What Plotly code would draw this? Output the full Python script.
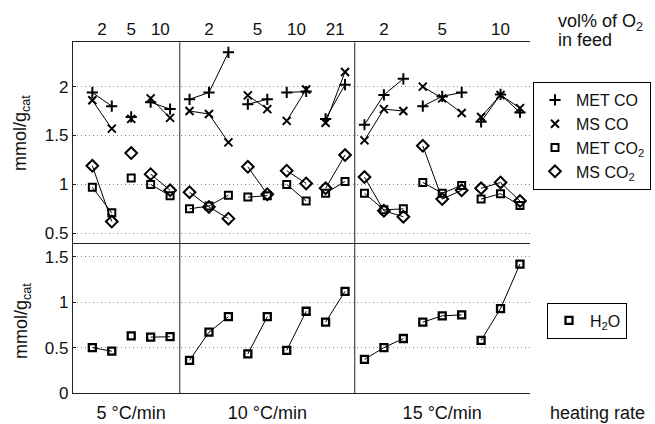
import plotly.graph_objects as go

# Experimental design: heating rates, O2 levels within each rate, runs per level
heating_rates = ["5 °C/min", "10 °C/min", "15 °C/min"]
o2_levels = [[2, 5, 10], [2, 5, 10, 21], [2, 5, 10]]
runs_per_level = [[2, 1, 2], [3, 2, 2, 2], [3, 3, 3]]

# Measured amounts (mmol/g_cat), one inner list per (heating rate, O2 level) block
met_co = [[1.94, 1.80], [1.69], [1.84, 1.77],
          [1.87, 1.94, 2.35], [1.82, 1.87], [1.94, 1.95], [1.67, 2.02],
          [1.61, 1.915, 2.08], [1.80, 1.90, 1.94], [1.64, 1.92, 1.735]]
ms_co = [[1.86, 1.57], [1.67], [1.88, 1.68],
         [1.75, 1.72, 1.43], [1.91, 1.77], [1.65, 1.97], [1.63, 2.15],
         [1.45, 1.77, 1.75], [2.00, 1.88, 1.73], [1.69, 1.915, 1.78]]
met_co2 = [[0.97, 0.71], [1.065], [1.00, 0.885],
           [0.75, 0.78, 0.89], [0.87, 0.885], [1.00, 0.83], [0.91, 1.03],
           [0.91, 0.74, 0.75], [1.02, 0.91, 0.99], [0.85, 0.905, 0.785]]
ms_co2 = [[1.19, 0.62], [1.32], [1.105, 0.94],
          [0.92, 0.77, 0.65], [1.18, 0.90], [1.14, 1.01], [0.96, 1.30],
          [1.075, 0.73, 0.67], [1.395, 0.85, 0.94], [0.96, 1.02, 0.83]]
h2o = [[0.50, 0.46], [0.63], [0.615, 0.62],
       [0.36, 0.67, 0.84], [0.43, 0.84], [0.47, 0.90], [0.78, 1.12],
       [0.37, 0.50, 0.60], [0.78, 0.85, 0.86], [0.58, 0.93, 1.42]]

# ---- build run positions along the category axis ----
block_x = []          # x positions for each block
o2_tick_x, o2_tick_text = [], []
group_center, group_edges = [], []
pos = 1
for levels, runs in zip(o2_levels, runs_per_level):
    first = pos
    for lvl, n in zip(levels, runs):
        xs = list(range(pos, pos + n))
        block_x.append(xs)
        o2_tick_x.append(sum(xs) / n)
        o2_tick_text.append(str(lvl))
        pos += n
    group_center.append((first + pos - 1) / 2)
    group_edges.append(pos - 0.5)
x_max = pos - 0.5


def flatten(blocks):
    xs, ys = [], []
    for bx, by in zip(block_x, blocks):
        xs += bx + [None]
        ys += by + [None]
    return xs, ys


BLACK = "#000"
series = [
    ("MET CO", met_co, dict(symbol="cross-thin", size=8, line=dict(width=2, color=BLACK))),
    ("MS CO", ms_co, dict(symbol="x-thin", size=8, line=dict(width=2, color=BLACK))),
    ("MET CO<sub>2</sub>", met_co2, dict(symbol="square-open", size=7, color=BLACK, line=dict(width=2, color=BLACK))),
    ("MS CO<sub>2</sub>", ms_co2, dict(symbol="diamond-open", size=9, color=BLACK, line=dict(width=2, color=BLACK))),
]

fig = go.Figure()
for name, blocks, mk in series:
    xs, ys = flatten(blocks)
    fig.add_trace(go.Scatter(x=xs, y=ys, mode="lines", line=dict(color=BLACK, width=1),
                             xaxis="x2", yaxis="y2", showlegend=False, hoverinfo="skip"))
    fig.add_trace(go.Scatter(x=xs, y=ys, mode="markers", marker=mk, name=name,
                             xaxis="x2", yaxis="y2", legend="legend"))

xs, ys = flatten(h2o)
fig.add_trace(go.Scatter(x=xs, y=ys, mode="lines", line=dict(color=BLACK, width=1),
                         xaxis="x", yaxis="y", showlegend=False, hoverinfo="skip"))
fig.add_trace(go.Scatter(x=xs, y=ys, mode="markers", name="H<sub>2</sub>O",
                         marker=dict(symbol="square-open", size=7, color=BLACK,
                                     line=dict(width=2.3, color=BLACK)),
                         xaxis="x", yaxis="y", legend="legend2"))

W, H = 655, 424
x_dom = [72.9 / W, 529.7 / W]
top_dom = [(H - 242.7) / H, (H - 42.3) / H]
bot_dom = [(H - 393) / H, (H - 242.7) / H]

AXC = "#222"
FONT = "Liberation Sans, Arial, sans-serif"
grid = dict(showgrid=True, gridcolor="#888", griddash="1px,3px", gridwidth=1)

# separators between heating-rate groups
for xe in group_edges[:-1]:
    fig.add_shape(type="line", xref="x", yref="paper", x0=xe, x1=xe,
                  y0=bot_dom[0], y1=top_dom[1], line=dict(color=AXC, width=1))

fig.update_layout(
    width=W, height=H, margin=dict(l=0, r=0, t=0, b=0, autoexpand=False),
    paper_bgcolor="white", plot_bgcolor="white",
    font=dict(family=FONT, size=16, color="#111"),
    xaxis=dict(domain=x_dom, anchor="y", range=[0, x_max], showline=True, linecolor=AXC,
               tickvals=group_center, ticktext=heating_rates, ticks="", ticklabelstandoff=3,
               tickfont=dict(size=18), showgrid=False, zeroline=False, automargin=False),
    xaxis2=dict(domain=x_dom, anchor="y2", side="top", range=[0, x_max], showline=True,
                mirror=True, linecolor=AXC, tickvals=o2_tick_x, ticktext=o2_tick_text,
                ticks="", ticklabelstandoff=0, tickfont=dict(size=17),
                showgrid=False, zeroline=False, automargin=False),
    yaxis=dict(domain=bot_dom, anchor="x", range=[0, 1.655], showline=True, linecolor=AXC,
               tickvals=[0, 0.5, 1, 1.5], ticktext=["0", "0.5", "1", "1.5"],
               tickfont=dict(size=17), ticks="inside", ticklen=3, tickcolor=AXC,
               zeroline=False, automargin=False, **grid),
    yaxis2=dict(domain=top_dom, anchor="x2", range=[0.404, 2.453], showline=True, linecolor=AXC,
                tickvals=[0.5, 1, 1.5, 2], ticktext=["0.5", "1", "1.5", "2"],
                tickfont=dict(size=17), ticks="inside", ticklen=3, tickcolor=AXC,
                zeroline=False, automargin=False, **grid),
    legend=dict(x=533 / W, y=(H - 136) / H, xanchor="left", yanchor="middle",
                bordercolor=BLACK, borderwidth=1, bgcolor="white",
                font=dict(size=16), tracegroupgap=0, itemwidth=32),
    legend2=dict(x=547 / W, y=(H - 320.5) / H, xanchor="left", yanchor="middle",
                 bordercolor=BLACK, borderwidth=1, bgcolor="white",
                 font=dict(size=16), itemwidth=32),
    annotations=[
        dict(text="mmol/g<sub>cat</sub>", textangle=-90, xref="paper", yref="paper",
             x=22 / W, y=(H - 133) / H, showarrow=False, xanchor="center", yanchor="middle",
             font=dict(size=18)),
        dict(text="mmol/g<sub>cat</sub>", textangle=-90, xref="paper", yref="paper",
             x=22 / W, y=(H - 321) / H, showarrow=False, xanchor="center", yanchor="middle",
             font=dict(size=18)),
        dict(text="vol% of O<sub>2</sub>", xref="paper", yref="paper", x=556 / W,
             y=(H - 22) / H, showarrow=False, xanchor="left", yanchor="middle",
             font=dict(size=18)),
        dict(text="in feed", xref="paper", yref="paper", x=556 / W,
             y=(H - 40) / H, showarrow=False, xanchor="left", yanchor="middle",
             font=dict(size=18)),
        dict(text="heating rate", xref="paper", yref="paper", x=597 / W,
             y=(H - 413) / H, showarrow=False, xanchor="center", yanchor="middle",
             font=dict(size=18)),
    ],
)

fig.write_html("out.html")
